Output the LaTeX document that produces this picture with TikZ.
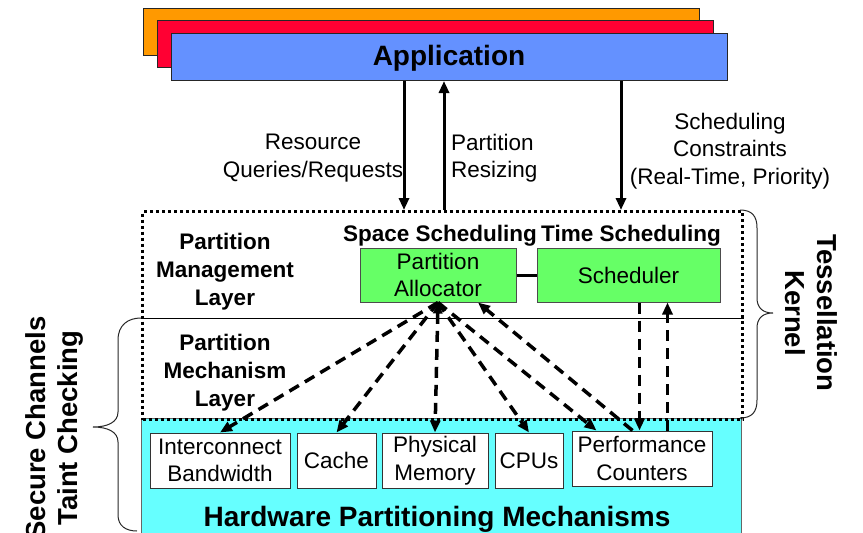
\documentclass[tikz,border=0pt]{standalone}
\usepackage{fontspec}
\setmainfont{Liberation Sans}
\usetikzlibrary{arrows.meta,calc}
\definecolor{apporange}{RGB}{255,153,0}
\definecolor{appred}{RGB}{255,0,51}
\definecolor{appblue}{RGB}{100,145,255}
\definecolor{boxgreen}{RGB}{102,255,102}
\definecolor{hwcyan}{RGB}{102,255,255}
\newcommand\regfont{\fontsize{22.5}{27.5}\selectfont}
\newcommand\boldfont{\bfseries\fontsize{22.5}{28}\selectfont}
\newcommand\titlefont{\bfseries\fontsize{28}{32}\selectfont}
\newcommand\sidefont{\bfseries\fontsize{27.5}{32}\selectfont}
\tikzset{
  stack/.style={draw=black!85, line width=1pt, minimum width=556pt,
    minimum height=47pt, inner sep=0pt, anchor=north west},
  greenbox/.style={draw=black!70, fill=boxgreen, line width=1pt,
    minimum height=54pt, inner sep=0pt, align=center, font=\regfont},
  hwbox/.style={draw=black!80, fill=white, line width=1pt,
    minimum height=55pt, inner sep=0pt, align=center, font=\regfont},
  lbl/.style={inner sep=0pt, align=center, font=\regfont},
  blbl/.style={inner sep=0pt, align=center, font=\boldfont},
  solidarrow/.style={line width=3pt, -{Triangle[length=12pt,width=10pt]}},
  dasharrow/.style={line width=3.5pt, dash pattern=on 11pt off 7pt,
    -{Triangle[length=12pt,width=10pt]}},
  kernelframe/.style={line width=3pt, dash pattern=on 3pt off 3pt},
  bracestroke/.style={line width=1pt, draw=black!85}
}
\begin{document}
\begin{tikzpicture}[x=1pt,y=-1pt]
\useasboundingbox (0,0) rectangle (863,533);

% application stack
\node[stack, fill=apporange] (app3) at (143,8) {};
\node[stack, fill=appred] (app2) at (157,20) {};
\node[stack, fill=appblue] (app) at (171,33) {};
\node[inner sep=0pt, font=\titlefont] (apptext) at (449,58) {Application};

% hardware layer
\node[draw=black!60, line width=1pt, fill=hwcyan, minimum width=600pt,
  minimum height=125pt, anchor=north west, inner sep=0pt] (hw) at (141,418) {};
\node[inner sep=0pt, font=\titlefont] (hwlabel) at (437,519) {Hardware Partitioning Mechanisms};

\node[hwbox, minimum width=140pt] (ic) at (220,460.5) {Interconnect\\Bandwidth};
\node[hwbox, minimum width=79pt] (cache) at (336.5,460.5) {Cache};
\node[hwbox, minimum width=106pt] (pm) at (435,460.5) {Physical\\Memory};
\node[hwbox, minimum width=68pt] (cpus) at (529,460.5) {CPUs};
\node[hwbox, minimum width=140pt] (perf) at (642,458.5) {Performance\\Counters};

% kernel frame and layer separator
\node[kernelframe, draw, minimum width=600pt, minimum height=208pt,
  anchor=north west, inner sep=0pt] (kern) at (141,210) {};
\coordinate (sepl) at (141,318);
\draw[line width=0.8pt] (sepl) -- (sepl -| kern.east);

% layer labels
\node[blbl] (pml) at (225,272) {Partition\\Management\\Layer};
\node[blbl] (pmech) at (225,373) {Partition\\Mechanism\\Layer};
\node[blbl] (space) at (440,236) {Space Scheduling};
\node[blbl] (time) at (631,236) {Time Scheduling};

% kernel components
\node[greenbox, minimum width=156pt] (alloc) at (438,275) {Partition\\Allocator};
\node[greenbox, minimum width=183pt] (sched) at (628.5,275) {Scheduler};
\draw[line width=3pt] (alloc) -- (sched);

% application interface
\coordinate (reqend) at (404,210);
\coordinate (resstart) at (444,210);
\coordinate (consend) at (621,210);
\draw[solidarrow] (app.south -| reqend) -- (reqend);
\draw[solidarrow] (resstart) -- (app.south -| resstart);
\draw[solidarrow] (app.south -| consend) -- (consend);
\node[lbl] (reqlbl) at (313,158) {Resource\\Queries/Requests};
\node[lbl, align=left, anchor=west] (reslbl) at (451,158) {Partition\\Resizing};
\node[lbl] (conslbl) at (730,151) {Scheduling\\Constraints\\(Real-Time, Priority)};

% allocator to mechanisms
\draw[dasharrow] (alloc.south) -- (ic.north);
\draw[dasharrow] (alloc.south) -- (cache.north);
\draw[dasharrow, {Triangle[length=11pt,width=9pt]}-{Triangle[length=12pt,width=10pt]}] (alloc.south) -- (pm.north);
\draw[dasharrow] (alloc.south) -- (cpus.north);
\draw[dasharrow] (alloc.south) -- ([xshift=25pt]perf.north west);
\draw[dasharrow] ([xshift=61pt]perf.north west) -- ([xshift=40pt]alloc.south);

% scheduler and performance counters
\coordinate (sdown) at ([xshift=68pt]perf.north west);
\coordinate (cup) at ([xshift=96pt]perf.north west);
\draw[dasharrow] (sched.south -| sdown) -- (sdown);
\draw[dasharrow] (cup) -- (sched.south -| cup);

% braces
\draw[bracestroke] (740,210) .. controls (752,210) and (757,216) .. (757,228)
  -- (757,298) .. controls (757,308) and (763,313) .. (773,313)
  .. controls (763,313) and (757,318) .. (757,328)
  -- (757,400) .. controls (757,412) and (752,418) .. (740,418);
\node[rotate=-90, align=center, font=\sidefont, inner sep=0pt] (tk) at (811,313) {Tessellation\\Kernel};

\draw[bracestroke] (sepl) .. controls (128,318) and (118,325) .. (118,340)
  -- (118,412) .. controls (118,422) and (108,427) .. (93,427)
  .. controls (108,427) and (118,432) .. (118,442)
  -- (118,515) .. controls (118,526) and (126,531) .. (137,531);
\node[rotate=90, align=center, font=\sidefont, inner sep=0pt] (sc) at (54,428) {Secure Channels\\Taint Checking};
\end{tikzpicture}
\end{document}
